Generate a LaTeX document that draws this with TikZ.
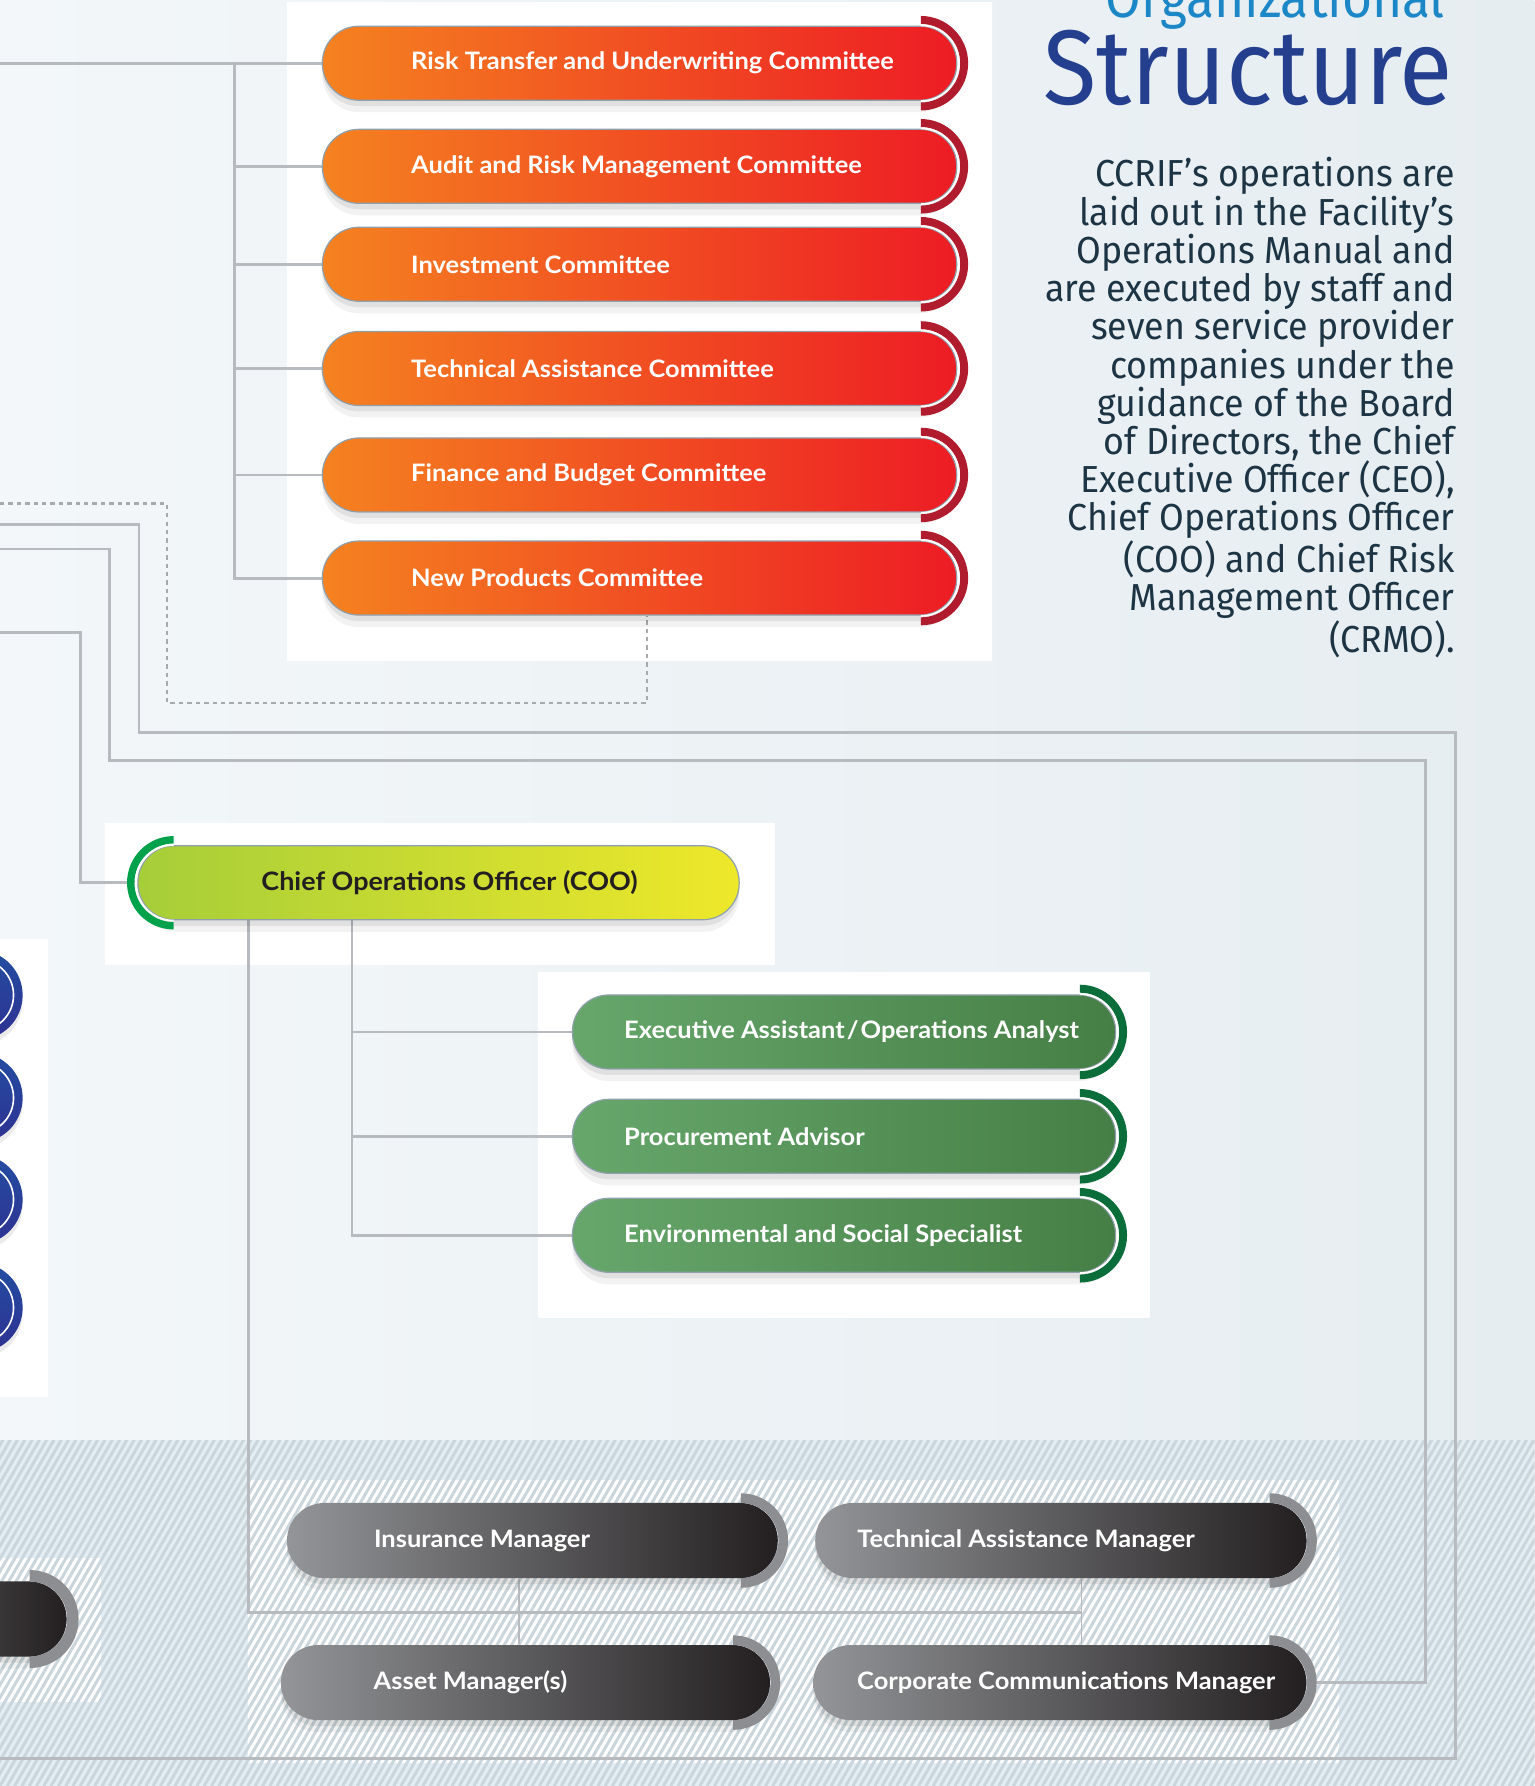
\documentclass[tikz,border=0pt]{standalone}
\usepackage{fontspec}
\newfontfamily\pillfont{Lato}[FakeStretch=1.06]
\newfontfamily\bodyfont{Fira Sans}[FakeStretch=0.95]
\newfontfamily\titlefont{Fira Sans}[FakeStretch=0.92]
\usetikzlibrary{calc}
\pgfdeclarelayer{bg}
\pgfdeclarelayer{lines}
\pgfsetlayers{bg,lines,main}
\definecolor{bgL}{HTML}{F3F7F9}
\definecolor{bgR}{HTML}{E6EDF1}
\definecolor{bandcol}{HTML}{E2EEF3}
\definecolor{stripecol}{HTML}{CBD6DC}
\definecolor{linecol}{HTML}{B7BABE}
\definecolor{dotcol}{HTML}{A7AAAD}
\definecolor{pillline}{HTML}{8FA0AD}
\definecolor{oL}{HTML}{F58220}
\definecolor{oR}{HTML}{ED1C24}
\definecolor{oCres}{HTML}{B01C2E}
\definecolor{cooL}{HTML}{A6CE39}
\definecolor{cooR}{HTML}{EEE82A}
\definecolor{cooCres}{HTML}{00A14B}
\definecolor{gL}{HTML}{67A76C}
\definecolor{gR}{HTML}{467F45}
\definecolor{gCres}{HTML}{0B6E3A}
\definecolor{kL}{HTML}{939598}
\definecolor{kR}{HTML}{231F20}
\definecolor{kCres}{HTML}{8D8E91}
\definecolor{blueA}{HTML}{2E3192}
\definecolor{blueB}{HTML}{1F5AA8}
\definecolor{structblue}{HTML}{253F8F}
\definecolor{orgblue}{HTML}{1B87C6}
\definecolor{bodycol}{HTML}{1C3444}
\definecolor{darktext}{HTML}{231F20}
\newcommand{\lt}[3]{\makebox[#1][l]{\hspace*{#2}#3}}
% right crescent: node, colour, outer radius, inner radius, centre offset
\newcommand{\crescR}[5]{%
  \fill[#2] ($(#1.east)+(-#5,#3)$) arc[start angle=90,end angle=-90,radius=#3]
    -- ($(#1.east)+(-#5,-#4)$) arc[start angle=-90,end angle=90,radius=#4] -- cycle;}
\newcommand{\crescL}[5]{%
  \fill[#2] ($(#1.west)+(#5,#3)$) arc[start angle=90,end angle=270,radius=#3]
    -- ($(#1.west)+(#5,-#4)$) arc[start angle=270,end angle=90,radius=#4] -- cycle;}
\newcommand{\ringR}[1]{\draw[white, line width=0.9pt] ($(#1.east)+(-0.64cm,0.665cm)$) arc[start angle=90,end angle=-90,radius=0.665cm];}
\tikzset{
  conn/.style={draw=linecol, line width=1.45pt},
  connthin/.style={draw=linecol, line width=0.8pt},
  dotline/.style={draw=dotcol, line width=1.1pt, dash pattern=on 2.2pt off 2pt},
  panel/.style={fill=white},
  pshadow/.style={preaction={fill=black, opacity=0.05, transform canvas={yshift=-6pt}},
                  preaction={fill=black, opacity=0.07, transform canvas={yshift=-3pt}}},
  pillbase/.style={rectangle, rounded corners=0.64cm, minimum height=1.3cm, inner sep=0pt,
                   draw=pillline, line width=0.6pt, pshadow,
                   font=\pillfont\bfseries\fontsize{12pt}{14pt}\selectfont},
  opill/.style={pillbase, left color=oL, right color=oR, text=white},
  coopill/.style={pillbase, left color=cooL, right color=cooR, text=darktext,
                  font=\pillfont\bfseries\fontsize{12.7pt}{15pt}\selectfont},
  gpill/.style={pillbase, left color=gL, right color=gR, text=white},
  kpill/.style={pillbase, rounded corners=0.66cm, minimum height=1.32cm, draw=none,
                left color=kL, right color=kR, text=white},
  bcirc/.style={circle, minimum size=1.58cm, inner sep=0pt, top color=blueB!70!blueA, bottom color=blueA,
                preaction={fill=black, opacity=0.08, transform canvas={yshift=-3pt}}},
}
\begin{document}
\begin{tikzpicture}[x=0.02cm, y=0.02cm]
\useasboundingbox (0,0) rectangle (1347,-1568);
\begin{pgfonlayer}{bg}
% background
\shade[left color=bgL, right color=bgR] (0,0) rectangle (1347,-1568);
\fill[bandcol] (0,-1264.5) rectangle (1347,-1568);
% white panels
\fill[panel] (252,-2) rectangle (871,-580.5);
\fill[panel] (92,-722.4) rectangle (680,-847.4);
\fill[panel] (472.6,-853.5) rectangle (1009.6,-1157);
\fill[panel] (0,-824) rectangle (42,-1226.5);
\fill[panel] (217.4,-1299.6) rectangle (1175.4,-1548);
\fill[panel] (0,-1368) rectangle (88.5,-1494.3);
% stripes
\begin{scope}
  \clip (0,-1264.5) rectangle (1347,-1568);
  \foreach \i in {-30,...,212} {
    \draw[stripecol, line width=1.5pt] (\i*6.4,-1568) -- ++(175.5,304);
  }
\end{scope}
\end{pgfonlayer}

% ---------- nodes ----------
\node[opill, minimum width=11.14cm] (rtu) at (561.5,-55.5) {\lt{11.14cm}{1.56cm}{Risk Transfer and Underwriting Committee}};
\node[opill, minimum width=11.14cm] (arm) at (561.5,-146) {\lt{11.14cm}{1.56cm}{Audit and Risk Management Committee}};
\node[opill, minimum width=11.14cm] (inv) at (561.5,-232) {\lt{11.14cm}{1.56cm}{Investment Committee}};
\node[opill, minimum width=11.14cm] (tac) at (561.5,-323.5) {\lt{11.14cm}{1.56cm}{Technical Assistance Committee}};
\node[opill, minimum width=11.14cm] (fbc) at (561.5,-417) {\lt{11.14cm}{1.56cm}{Finance and Budget Committee}};
\node[opill, minimum width=11.14cm] (npc) at (561.5,-507.5) {\lt{11.14cm}{1.56cm}{New Products Committee}};
\node[coopill, minimum width=10.56cm] (coo) at (385,-775) {\lt{10.56cm}{2.17cm}{Chief Operations Officer (COO)}};
\node[gpill, minimum width=9.54cm] (ea) at (741,-906) {\lt{9.54cm}{0.91cm}{Executive Assistant\kern1pt/\kern1ptOperations Analyst}};
\node[gpill, minimum width=9.54cm] (pa) at (741,-997.6) {\lt{9.54cm}{0.91cm}{Procurement Advisor}};
\node[gpill, minimum width=9.54cm] (es) at (741,-1084.5) {\lt{9.54cm}{0.91cm}{Environmental and Social Specialist}};
\node[kpill, minimum width=8.62cm] (im) at (467.4,-1352.5) {\lt{8.62cm}{1.53cm}{Insurance Manager}};
\node[kpill, minimum width=8.63cm] (tam) at (931.4,-1352.5) {\lt{8.63cm}{0.74cm}{Technical Assistance Manager}};
\node[kpill, minimum width=8.59cm] (am) at (461.3,-1477.2) {\lt{8.59cm}{1.63cm}{Asset Manager(s)}};
\node[kpill, minimum width=8.66cm] (ccm) at (930.5,-1477.2) {\lt{8.66cm}{0.77cm}{Corporate Communications Manager}};
\node[kpill, minimum width=6cm] (lp) at (-91.5,-1421.4) {};
\node[bcirc] (b1) at (-19.6,-873.6) {};
\node[bcirc] (b2) at (-19.6,-963.8) {};
\node[bcirc] (b3) at (-19.6,-1053) {};
\node[bcirc] (b4) at (-19.6,-1148) {};
\foreach \b in {b1,b2,b3,b4} {\draw[white, line width=0.8pt] (\b.center) circle[radius=0.63cm];}

% crescents
\foreach \n in {rtu,arm,inv,tac,fbc,npc} {\crescR{\n}{oCres}{0.83cm}{0.69cm}{0.64cm}\ringR{\n}}
\foreach \n in {ea,pa,es} {\crescR{\n}{gCres}{0.83cm}{0.69cm}{0.64cm}\ringR{\n}}
\foreach \n in {im,tam,am,ccm} {\crescR{\n}{kCres}{0.83cm}{0.66cm}{0.66cm}}
\crescR{lp}{kCres}{0.86cm}{0.66cm}{0.66cm}
\crescL{coo}{cooCres}{0.82cm}{0.69cm}{0.64cm}
\draw[white, line width=0.9pt] ($(coo.west)+(0.64cm,0.665cm)$) arc[start angle=90,end angle=270,radius=0.665cm];

% ---------- connectors ----------
\coordinate (L1) at (0,-55.5);
\coordinate (L2) at (0,-442);
\coordinate (L3) at (0,-460.4);
\coordinate (L4) at (0,-482);
\coordinate (L5) at (0,-555.5);
\coordinate (L6) at (0,-1544);
\coordinate (bus) at (205.6,0);
\coordinate (dA) at (146.5,-617);
\coordinate (dB) at (568,0);
\coordinate (xA) at (122,-642.7);
\coordinate (xA2) at (1277.6,-1544);
\coordinate (xB) at (96.3,-668);
\coordinate (xB2) at (1251.8,0);
\coordinate (xC) at (70.8,0);
\coordinate (cD) at (218,0);
\coordinate (cE) at (309,0);
\coordinate (jD) at (949.5,-1415.3);
\coordinate (v1) at (455.4,0);
\coordinate (v2) at (949.5,0);
\begin{pgfonlayer}{lines}
\draw[conn] (L1) -- (rtu.west);
\draw[conn] (bus |- rtu.west) |- (npc.west);
\foreach \n in {arm,inv,tac,fbc} {\draw[conn] (bus |- \n.west) -- (\n.west);}
\draw[dotline] (L2) -| (dA) -| (dB |- npc.south);
\draw[conn] (L3) -| (xA) -| (xA2) -- (L6);
\draw[conn] (L4) -| (xB) -| (xB2 |- ccm.east) -- (ccm.east);
\draw[conn] (L5) -| (xC |- coo.west) -- (coo.west);
\draw[conn] (cD |- coo.south) |- (jD);
\draw[conn] (cE |- coo.south) |- (es.west);
\draw[conn] (cE |- ea.west) -- (ea.west);
\draw[conn] (cE |- pa.west) -- (pa.west);
\draw[connthin] (v1 |- im.south) -- (v1 |- am.north);
\draw[connthin] (v2 |- tam.south) -- (v2 |- ccm.north);
\end{pgfonlayer}

% ---------- title and text ----------
\node[anchor=base east, inner sep=0pt, text=orgblue, font=\titlefont\fontsize{28pt}{28pt}\selectfont] (org) at (1269,-15.2) {Organizational};
\node[anchor=base east, inner sep=0pt, text=structblue, font=\titlefont\fontsize{53pt}{53pt}\selectfont] (ttl) at (1276,-91.4) {Structure};
\node[anchor=north east, inner sep=0pt, align=right, text=bodycol, font=\bodyfont\fontsize{18.8pt}{19.1pt}\selectfont] (body) at (1277.4,-138) {CCRIF’s operations are\\laid out in the Facility’s\\Operations Manual and\\are executed by staff and\\seven service provider\\companies under the\\guidance of the Board\\of Directors, the Chief\\Executive Officer (CEO),\\Chief Operations Officer\\(COO) and Chief Risk\\Management Officer\\(CRMO).};
\end{tikzpicture}
\end{document}
